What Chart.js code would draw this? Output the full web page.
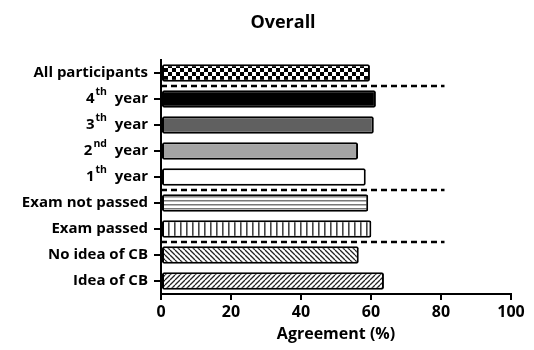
<!DOCTYPE html>
<html>
<head>
<meta charset="utf-8">
<script src="https://cdn.jsdelivr.net/npm/chart.js@4/dist/chart.umd.min.js"></script>
<style>
  html, body { margin: 0; padding: 0; background: #fff; }
  #wrap { width: 534px; height: 350px; position: relative; }
</style>
</head>
<body>
<div id="wrap"><canvas id="c" width="534" height="350"></canvas></div>
<script>
// Agreement by participant group
const categories = ['All participants', '4th year', '3th year', '2nd year', '1th year',
                    'Exam not passed', 'Exam passed', 'No idea of CB', 'Idea of CB'];
const agreement = [59.7, 61.4, 60.8, 56.3, 58.5, 59.2, 60.1, 56.5, 63.7];
const xTicks = [0, 20, 40, 60, 80, 100];
// group separators: drawn below these category indices, out to this value
const separatorsAfter = [0, 4, 6];
const separatorExtent = 81;

const FONT = '"Open Sans", Lato, sans-serif';

function makePattern(kind) {
  const c = document.createElement('canvas');
  const g = c.getContext('2d');
  let s = 8;
  if (kind === 'checker') {
    s = 8; c.width = s; c.height = s;
    g.fillStyle = '#fff'; g.fillRect(0, 0, s, s);
    g.fillStyle = '#000';
    g.fillRect(0, 0, 4, 4); g.fillRect(4, 4, 4, 4);
  } else if (kind === 'hstripe') {
    c.width = 8; c.height = 4;
    g.fillStyle = '#fff'; g.fillRect(0, 0, 8, 4);
    g.fillStyle = '#777'; g.fillRect(0, 0, 8, 1.5);
  } else if (kind === 'vstripe') {
    c.width = 6; c.height = 8;
    g.fillStyle = '#fff'; g.fillRect(0, 0, 6, 8);
    g.fillStyle = '#444'; g.fillRect(0, 0, 1.6, 8);
  } else if (kind === 'back' || kind === 'fwd') {
    s = 5; c.width = s; c.height = s;
    g.fillStyle = '#fff'; g.fillRect(0, 0, s, s);
    g.strokeStyle = '#222'; g.lineWidth = 1.3;
    g.beginPath();
    if (kind === 'back') {
      for (let k = -1; k <= 1; k++) { g.moveTo(k * s, 0); g.lineTo(k * s + s, s); }
    } else {
      for (let k = -1; k <= 1; k++) { g.moveTo(k * s, s); g.lineTo(k * s + s, 0); }
    }
    g.stroke();
  }
  return document.getElementById('c').getContext('2d').createPattern(c, 'repeat');
}

const fills = [
  makePattern('checker'), '#000000', '#606060', '#a4a4a4', '#ffffff',
  makePattern('hstripe'), makePattern('vstripe'), makePattern('back'), makePattern('fwd')
];

// draws the title, the tick labels with superscript ordinals, and the group separators
const decor = {
  id: 'decor',
  afterDraw(chart) {
    const ctx = chart.ctx;
    const y = chart.scales.y, x = chart.scales.x;
    ctx.save();
    ctx.fillStyle = '#000';
    ctx.font = 'bold 18px ' + FONT;
    ctx.textAlign = 'center'; ctx.textBaseline = 'alphabetic';
    ctx.fillText('Overall', 283, 28);

    ctx.textBaseline = 'middle';
    const big = 'bold 15px ' + FONT, small = 'bold 10.5px ' + FONT;
    categories.forEach((lab, i) => {
      const py = y.getPixelForValue(i);
      const right = y.right - 13;
      const m = lab.match(/^(\d)(th|nd|st|rd) (.*)$/);
      if (m) {
        ctx.font = big;
        const rest = '  ' + m[3];
        const wRest = ctx.measureText(rest).width;
        const wNum = ctx.measureText(m[1]).width;
        ctx.font = small;
        const wSup = ctx.measureText(m[2]).width + 1;
        ctx.textAlign = 'left';
        const px = right - wRest - wSup - wNum;
        ctx.font = big;
        ctx.fillText(m[1], px, py);
        ctx.fillText(rest, px + wNum + wSup, py);
        ctx.font = small;
        ctx.fillText(m[2], px + wNum + 1, py - 7);
      } else {
        ctx.font = big;
        ctx.textAlign = 'right';
        ctx.fillText(lab, right, py);
      }
    });

    ctx.strokeStyle = '#000'; ctx.lineWidth = 2.5;
    ctx.setLineDash([6, 4]);
    separatorsAfter.forEach(i => {
      const py = Math.round((y.getPixelForValue(i) + y.getPixelForValue(i + 1)) / 2);
      ctx.beginPath();
      ctx.moveTo(x.getPixelForValue(0), py);
      ctx.lineTo(x.getPixelForValue(separatorExtent), py);
      ctx.stroke();
    });
    ctx.restore();
  }
};

new Chart(document.getElementById('c'), {
  type: 'bar',
  data: {
    labels: categories,
    datasets: [{
      data: agreement,
      backgroundColor: fills,
      borderColor: '#000',
      borderWidth: 2,
      borderRadius: 2,
      borderSkipped: false,
      categoryPercentage: 1,
      barPercentage: 0.68
    }]
  },
  options: {
    indexAxis: 'y',
    responsive: false,
    animation: false,
    events: [],
    layout: { padding: { top: 60, right: 23, left: 0, bottom: 6 } },
    plugins: { legend: { display: false }, tooltip: { enabled: false }, title: { display: false } },
    scales: {
      x: {
        min: 0, max: 100,
        afterBuildTicks(s) { s.ticks = xTicks.map(v => ({ value: v })); },
        afterFit(s) { s.height = 50; },
        border: { display: true, color: '#000', width: 2 },
        grid: { display: true, drawOnChartArea: false, drawTicks: true, tickLength: 6, color: '#000', lineWidth: 2 },
        ticks: { color: '#000', font: { family: FONT, size: 16, weight: 'bold' }, padding: 3, maxRotation: 0 },
        title: { display: true, text: 'Agreement (%)', color: '#000', font: { family: FONT, size: 16, weight: 'bold' }, padding: { top: 0, bottom: 0 } }
      },
      y: {
        afterFit(s) { s.width = 161; },
        border: { display: true, color: '#000', width: 2 },
        grid: { display: true, offset: false, drawOnChartArea: false, drawTicks: true, tickLength: 7, color: '#000', lineWidth: 2 },
        ticks: { color: 'rgba(0,0,0,0)', font: { family: FONT, size: 15, weight: 'bold' } }
      }
    }
  },
  plugins: [decor]
});
</script>
</body>
</html>
